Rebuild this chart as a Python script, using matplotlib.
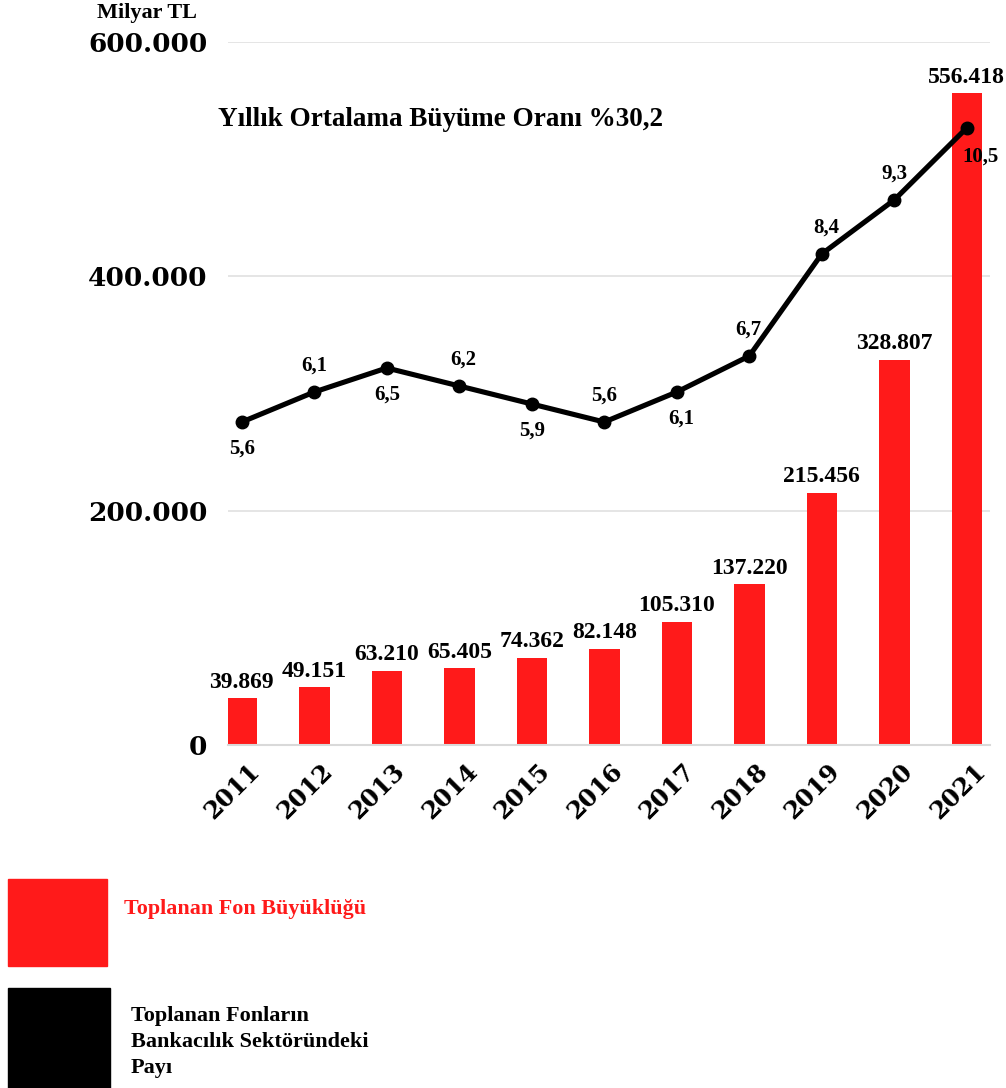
import matplotlib as mpl
mpl.use("Agg")
import matplotlib.pyplot as plt
import matplotlib.transforms as mtransforms
from matplotlib.patches import Rectangle
import numpy as np

years = ["2011", "2012", "2013", "2014", "2015", "2016", "2017", "2018", "2019", "2020", "2021"]
fund_size = [39869, 49151, 63210, 65405, 74362, 82148, 105310, 137220, 215456, 328807, 556418]
fund_labels = ["39.869", "49.151", "63.210", "65.405", "74.362", "82.148",
               "105.310", "137.220", "215.456", "328.807", "556.418"]
bank_share = [5.6, 6.1, 6.5, 6.2, 5.9, 5.6, 6.1, 6.7, 8.4, 9.3, 10.5]
share_labels = ["5,6", "6,1", "6,5", "6,2", "5,9", "5,6", "6,1", "6,7", "8,4", "9,3", "10,5"]
# where each share label sits relative to its point (points)
share_offsets = [(0, -19), (0, 19), (0, -19), (3, 19), (0, -19), (0, 19),
                 (3, -19), (-1, 19), (3, 19), (0, 19), (10, -21)]
yticks = [0, 200000, 400000, 600000]
ytick_labels = ["0", "200.000", "400.000", "600.000"]

RED = "#ff1a1a"
heavy = "DejaVu Serif"
times = "Liberation Serif"

fig = plt.figure(figsize=(10.06, 10.88), dpi=100)
ax = fig.add_axes([228 / 1006, 1 - 745 / 1088, 762 / 1006, 703 / 1088])
x = np.arange(len(years))

ax.bar(x, fund_size, width=0.42, color=RED, zorder=2)
for xi, v, lab in zip(x, fund_size, fund_labels):
    ax.annotate(lab, (xi, v), xytext=(0, 4), textcoords="offset points",
                ha="center", va="bottom", fontsize=17, fontweight="bold", family=times)

ax.set_xlim(-0.19, 10.32)
ax.set_ylim(0, 600000)
ax.set_yticks(yticks)
ax.set_yticklabels(ytick_labels, fontsize=19, fontweight="bold", family=heavy)
ax.set_xticks(x)
ax.set_xticklabels(years, rotation=45, ha="center", fontsize=17.5, fontweight="bold", family=heavy)
ax.tick_params(axis="y", length=0, pad=15)
ax.tick_params(axis="x", length=0, pad=10)
shift = mtransforms.ScaledTranslation(-9 / 100, 0, fig.dpi_scale_trans)
for t in ax.get_xticklabels():
    t.set_transform(t.get_transform() + shift)
ax.grid(axis="y", color="#e0e0e0", linewidth=1.2, zorder=0)
for s in ["top", "right", "left"]:
    ax.spines[s].set_visible(False)
ax.spines["bottom"].set_color("#d9d9d9")
ax.spines["bottom"].set_linewidth(1.5)

ax2 = ax.twinx()
ax2.set_ylim(0.22, 11.93)
ax2.plot(x, bank_share, color="black", linewidth=3.7, marker="o", markersize=9, zorder=3)
for xi, v, lab, off in zip(x, bank_share, share_labels, share_offsets):
    ax2.annotate(lab, (xi, v), xytext=off, textcoords="offset points",
                 ha="center", va="center", fontsize=15, fontweight="bold", family=times)
ax2.axis("off")

fig.text(147 / 1006, 1 - 13 / 1088, "Milyar TL", ha="center", va="center",
         fontsize=16, fontweight="bold", family=times)
fig.text(218 / 1006, 1 - 120 / 1088, "Yıllık Ortalama Büyüme Oranı %30,2", ha="left", va="center",
         fontsize=19.5, fontweight="bold", family=times)

# legend blocks at the bottom
fig.patches.append(Rectangle((8 / 1006, 1 - 966 / 1088), 99 / 1006, 87 / 1088,
                             transform=fig.transFigure, color=RED))
fig.patches.append(Rectangle((8 / 1006, 0), 102 / 1006, 100 / 1088,
                             transform=fig.transFigure, color="black"))
fig.text(124 / 1006, 1 - 909 / 1088, "Toplanan Fon Büyüklüğü", ha="left", va="center",
         fontsize=15.8, fontweight="bold", family=times, color=RED)
fig.text(131 / 1006, 1 - 1042 / 1088, "Toplanan Fonların\nBankacılık Sektöründeki\nPayı",
         ha="left", va="center", fontsize=16, fontweight="bold", family=times,
         linespacing=1.37)

fig.savefig("out.png", dpi=100)
